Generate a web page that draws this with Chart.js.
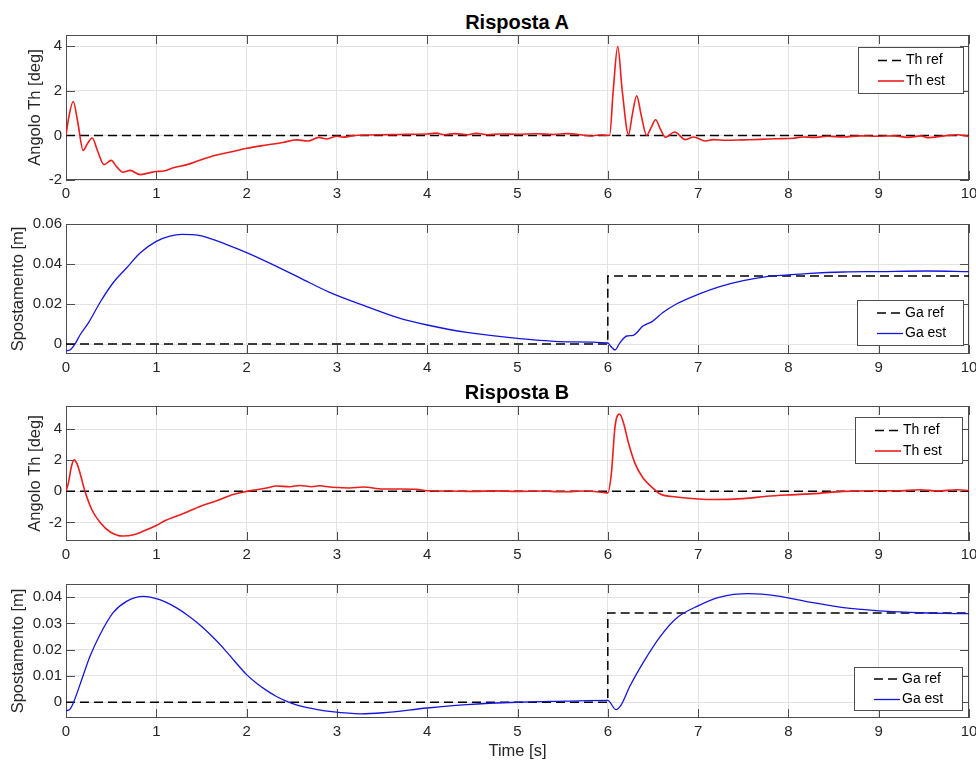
<!DOCTYPE html>
<html>
<head>
<meta charset="utf-8">
<script src="https://cdn.jsdelivr.net/npm/chart.js@4.4.1/dist/chart.umd.min.js"></script>
<style>
  html, body { margin: 0; padding: 0; background: #fff; }
  body { width: 976px; height: 761px; position: relative; overflow: hidden; font-family: 'Liberation Sans', Arial, Helvetica, sans-serif; }
  canvas { position: absolute; left: 0; }
  .title { position: absolute; left: 417px; width: 200px; text-align: center; font-weight: bold; font-size: 20px; line-height: 20px; color: #000; }
</style>
</head>
<body>
<div class="title" style="top:12px">Risposta A</div>
<canvas id="thA" width="976" height="180" style="top:30px"></canvas>
<canvas id="gaA" width="976" height="173" style="top:211px"></canvas>
<div class="title" style="top:382px">Risposta B</div>
<canvas id="thB" width="976" height="170" style="top:401px"></canvas>
<canvas id="gaB" width="976" height="182" style="top:579px"></canvas>
<script>
// Risposta A - angolo
const tThA = [0, 0.03, 0.08, 0.13, 0.19, 0.24, 0.29, 0.35, 0.42, 0.50, 0.56, 0.63, 0.71, 0.82, 0.92, 1.0, 1.08, 1.19, 1.34, 1.49, 1.67, 1.85, 2.0, 2.22, 2.40, 2.55, 2.68, 2.80, 2.89, 3.0, 3.07, 3.18, 3.35, 3.5, 3.7, 3.85, 4.0, 4.1, 4.19, 4.3, 4.45, 4.54, 4.67, 4.8, 5.0, 5.2, 5.4, 5.55, 5.7, 5.81, 5.9, 5.96, 6.02, 6.06, 6.11, 6.16, 6.23, 6.27, 6.32, 6.37, 6.43, 6.48, 6.53, 6.58, 6.64, 6.74, 6.86, 6.95, 7.08, 7.17, 7.31, 7.5, 7.69, 7.87, 8.05, 8.16, 8.28, 8.43, 8.61, 8.79, 8.98, 9.17, 9.32, 9.47, 9.54, 9.73, 9.87, 10];
const thA = [0, 0.8, 1.52, 0.6, -0.67, -0.35, -0.12, -0.7, -1.31, -1.12, -1.4, -1.65, -1.57, -1.76, -1.68, -1.62, -1.6, -1.45, -1.31, -1.1, -0.88, -0.72, -0.58, -0.43, -0.32, -0.2, -0.25, -0.09, -0.16, -0.04, -0.08, -0.01, 0.02, 0.03, 0.04, 0.05, 0.06, 0.1, 0.03, 0.08, 0.03, 0.09, 0.03, 0.06, 0.05, 0.07, 0.04, 0.08, 0.03, -0.03, 0.02, 0.01, 0.0, 2.0, 3.98, 2.0, 0.03, 0.9, 1.78, 0.9, 0.0, 0.35, 0.70, 0.3, -0.09, 0.15, -0.19, -0.07, -0.25, -0.19, -0.22, -0.2, -0.18, -0.15, -0.13, -0.07, -0.09, -0.04, -0.07, -0.02, -0.04, -0.02, -0.09, -0.02, -0.1, -0.02, 0.03, -0.04];

// Risposta A - spostamento
const tGaA = [0, 0.044, 0.1, 0.155, 0.25, 0.38, 0.52, 0.67, 0.82, 1.0, 1.15, 1.28, 1.4, 1.5, 1.78, 2.0, 2.22, 2.59, 2.92, 3.33, 3.7, 4.0, 4.44, 5.0, 5.54, 6.0, 6.04, 6.08, 6.13, 6.21, 6.28, 6.39, 6.49, 6.61, 6.76, 7.0, 7.24, 7.5, 7.76, 8.0, 8.24, 8.61, 9.0, 9.54, 10];
const gaA = [-0.0033, -0.003, 0, 0.0045, 0.0107, 0.021, 0.0305, 0.038, 0.0455, 0.0513, 0.0539, 0.0548, 0.0547, 0.0541, 0.0497, 0.0457, 0.0412, 0.0331, 0.0258, 0.0187, 0.0128, 0.0095, 0.0058, 0.0028, 0.0011, 0.0005, -0.0015, -0.003, 0.0003, 0.004, 0.0043, 0.009, 0.0112, 0.0157, 0.020, 0.0248, 0.0287, 0.0317, 0.0337, 0.0345, 0.0353, 0.036, 0.0362, 0.0365, 0.0362];

// Risposta B - angolo
const tThB = [0, 0.026, 0.06, 0.09, 0.12, 0.155, 0.21, 0.285, 0.38, 0.49, 0.63, 0.75, 0.86, 1.0, 1.1, 1.3, 1.49, 1.67, 1.85, 2.0, 2.11, 2.22, 2.33, 2.48, 2.59, 2.72, 2.81, 2.92, 3.0, 3.14, 3.29, 3.51, 3.7, 3.88, 4.0, 4.25, 4.5, 4.75, 5.0, 5.25, 5.5, 5.75, 5.95, 6.0, 6.04, 6.08, 6.13, 6.17, 6.23, 6.30, 6.39, 6.50, 6.58, 6.76, 7.0, 7.17, 7.5, 7.76, 8.0, 8.28, 8.61, 8.98, 9.2, 9.46, 9.65, 9.87, 10];
const thB = [0, 0.53, 1.6, 2.03, 1.8, 1.18, 0, -1.17, -2.03, -2.62, -2.88, -2.80, -2.56, -2.2, -1.88, -1.43, -0.96, -0.6, -0.21, 0, 0.1, 0.21, 0.34, 0.3, 0.38, 0.3, 0.36, 0.28, 0.25, 0.22, 0.28, 0.15, 0.15, 0.13, 0.04, 0.02, 0.0, 0.03, 0.0, 0.02, -0.03, 0.02, -0.07, -0.1, 1.18, 4.17, 4.98, 4.49, 3.1, 1.82, 0.86, 0.21, -0.17, -0.36, -0.49, -0.53, -0.47, -0.32, -0.23, -0.15, 0.0, 0.04, 0.03, 0.1, 0.02, 0.1, 0.05];

// Risposta B - spostamento
const tGaB = [0, 0.04, 0.08, 0.155, 0.266, 0.376, 0.52, 0.67, 0.86, 1.0, 1.11, 1.22, 1.35, 1.49, 1.62, 1.74, 1.87, 2.0, 2.11, 2.22, 2.33, 2.44, 2.55, 2.66, 2.8, 2.92, 3.26, 3.51, 4.0, 4.44, 5.0, 5.54, 6.0, 6.09, 6.15, 6.24, 6.39, 6.58, 6.76, 7.0, 7.24, 7.56, 7.87, 8.24, 8.61, 9.0, 9.35, 9.72, 10];
const gaB = [-0.0032, -0.0028, -0.0003, 0.0067, 0.0175, 0.0257, 0.034, 0.0384, 0.0403, 0.0394, 0.038, 0.036, 0.033, 0.0292, 0.025, 0.0207, 0.0155, 0.0105, 0.0072, 0.0045, 0.0022, 0.0004, -0.001, -0.002, -0.0029, -0.0035, -0.0044, -0.004, -0.0022, -0.0009, 0.0, 0.0004, 0.0007, -0.0028, -0.0009, 0.0058, 0.015, 0.025, 0.032, 0.0367, 0.040, 0.0413, 0.0405, 0.0381, 0.036, 0.0348, 0.0342, 0.0338, 0.0337];

// riferimenti
const tRef = [0, 10];
const thRef = [0, 0];
const tStep = [0, 6, 6, 10];
const gaRefA = [0, 0, 0.034, 0.034];
const gaRefB = [0, 0, 0.034, 0.034];

const FONT = "'Liberation Sans', Arial, Helvetica, sans-serif";
const AXIS_COLOR = '#4d4d4d';
Chart.defaults.font.family = FONT;
Chart.defaults.color = '#262626';

function pts(t, v) {
  return t.map((x, i) => ({ x: x, y: v[i] }));
}

// box + inward tick marks like matlab axes
const framePlugin = {
  id: 'matlabFrame',
  beforeDatasetsDraw(chart) {
    const { ctx, chartArea: a, scales } = chart;
    const len = 9;
    ctx.save();
    ctx.strokeStyle = AXIS_COLOR;
    ctx.lineWidth = 1;
    ctx.beginPath();
    scales.x.ticks.forEach(t => {
      const px = Math.round(scales.x.getPixelForValue(t.value)) + 0.5;
      ctx.moveTo(px, a.top); ctx.lineTo(px, a.top + len);
      ctx.moveTo(px, a.bottom); ctx.lineTo(px, a.bottom - len);
    });
    scales.y.ticks.forEach(t => {
      const py = Math.round(scales.y.getPixelForValue(t.value)) + 0.5;
      ctx.moveTo(a.left, py); ctx.lineTo(a.left + len, py);
      ctx.moveTo(a.right, py); ctx.lineTo(a.right - len, py);
    });
    ctx.stroke();
    ctx.strokeRect(Math.round(a.left) + 0.5, Math.round(a.top) + 0.5, Math.round(a.width) - 1, Math.round(a.height) - 1);
    ctx.restore();
  }
};

// legend drawn inside the plot area
const boxLegend = {
  id: 'boxLegend',
  afterDraw(chart, args, opts) {
    if (!opts || !opts.width) return;
    const { ctx, chartArea: a } = chart;
    const x0 = Math.round(a.right - opts.right - opts.width);
    const y0 = Math.round(opts.fromTop ? a.top + opts.gap : a.bottom - opts.gap - opts.height);
    ctx.save();
    ctx.fillStyle = '#fff';
    ctx.fillRect(x0, y0, opts.width, opts.height);
    ctx.strokeStyle = AXIS_COLOR;
    ctx.lineWidth = 1;
    ctx.strokeRect(x0 + 0.5, y0 + 0.5, opts.width, opts.height);
    ctx.font = '14px ' + FONT;
    ctx.textBaseline = 'middle';
    ctx.fillStyle = '#000';
    chart.data.datasets.forEach((ds, i) => {
      const cy = y0 + opts.row0 + i * 20.5;
      ctx.beginPath();
      ctx.setLineDash(ds.borderDash || []);
      ctx.strokeStyle = ds.borderColor;
      ctx.lineWidth = ds.borderWidth;
      ctx.moveTo(x0 + 20, cy);
      ctx.lineTo(x0 + 46, cy);
      ctx.stroke();
      ctx.setLineDash([]);
      ctx.fillText(ds.label, x0 + 48, cy);
    });
    ctx.restore();
  }
};

function makeChart(id, cfg) {
  const ctx = document.getElementById(id);
  return new Chart(ctx, {
    type: 'line',
    data: {
      datasets: [
        {
          label: cfg.refLabel,
          data: pts(cfg.refT, cfg.refY),
          borderColor: '#000',
          borderWidth: 1.5,
          borderDash: [9, 5],
          tension: 0,
          pointRadius: 0,
          order: 1
        },
        {
          label: cfg.estLabel,
          data: pts(cfg.estT, cfg.estY),
          borderColor: cfg.color,
          borderWidth: cfg.width,
          cubicInterpolationMode: 'monotone',
          pointRadius: 0,
          order: 0
        }
      ]
    },
    options: {
      responsive: false,
      animation: false,
      devicePixelRatio: 1,
      layout: { padding: { top: cfg.padTop, left: 0, right: 7, bottom: 0 } },
      plugins: {
        legend: { display: false },
        tooltip: { enabled: false },
        boxLegend: cfg.legend
      },
      scales: {
        x: {
          type: 'linear',
          min: 0,
          max: 10,
          ticks: { stepSize: 1, padding: 5, maxRotation: 0, autoSkip: false, font: { size: 15 }, color: '#262626' },
          grid: { color: '#e3e3e3', drawTicks: false },
          border: { display: false },
          title: {
            display: !!cfg.xTitle,
            text: cfg.xTitle || '',
            font: { size: 16.5 },
            color: '#262626',
            padding: { top: 0, bottom: 0 }
          },
          afterFit(scale) {
            scale.height = cfg.xHeight;
            scale.paddingLeft = 0;
            scale.paddingRight = 0;
          }
        },
        y: {
          type: 'linear',
          min: cfg.yMin,
          max: cfg.yMax,
          ticks: { stepSize: cfg.step, padding: 4, includeBounds: false, font: { size: 15 }, color: '#262626' },
          grid: { color: '#e3e3e3', drawTicks: false },
          border: { display: false },
          title: {
            display: true,
            text: cfg.yTitle,
            font: { size: 16.5 },
            color: '#262626',
            padding: { top: cfg.yTitlePad, bottom: 0 }
          },
          afterFit(scale) {
            scale.width = 66;
            scale.paddingTop = 0;
            scale.paddingBottom = 0;
          }
        }
      }
    },
    plugins: [framePlugin, boxLegend]
  });
}

makeChart('thA', {
  refT: tRef, refY: thRef, refLabel: 'Th ref',
  estT: tThA, estY: thA, estLabel: 'Th est', color: '#ee1c1c', width: 1.6,
  yMin: -2, yMax: 4.5, step: 2, yTitle: 'Angolo Th [deg]', yTitlePad: 26, xHeight: 30, padTop: 5,
  legend: { fromTop: true, gap: 12, right: 6, width: 105, height: 46, row0: 13.5 }
});

makeChart('gaA', {
  refT: tStep, refY: gaRefA, refLabel: 'Ga ref',
  estT: tGaA, estY: gaA, estLabel: 'Ga est', color: '#1515e0', width: 1.3,
  yMin: -0.005, yMax: 0.06, step: 0.02, yTitle: 'Spostamento [m]', yTitlePad: 9, xHeight: 30, padTop: 13,
  legend: { fromTop: false, gap: 9, right: 6, width: 106, height: 45, row0: 13 }
});

makeChart('thB', {
  refT: tRef, refY: thRef, refLabel: 'Th ref',
  estT: tThB, estY: thB, estLabel: 'Th est', color: '#ee1c1c', width: 1.6,
  yMin: -3.2, yMax: 5.5, step: 2, yTitle: 'Angolo Th [deg]', yTitlePad: 26, xHeight: 30, padTop: 5,
  legend: { fromTop: true, gap: 11, right: 7, width: 107, height: 46, row0: 13.5 }
});

makeChart('gaB', {
  refT: tStep, refY: gaRefB, refLabel: 'Ga ref',
  estT: tGaB, estY: gaB, estLabel: 'Ga est', color: '#1515e0', width: 1.3,
  yMin: -0.006, yMax: 0.045, step: 0.01, yTitle: 'Spostamento [m]', yTitlePad: 9, xHeight: 43, padTop: 5,
  xTitle: 'Time [s]',
  legend: { fromTop: false, gap: 8, right: 7, width: 108, height: 43, row0: 12 }
});
</script>
</body>
</html>
